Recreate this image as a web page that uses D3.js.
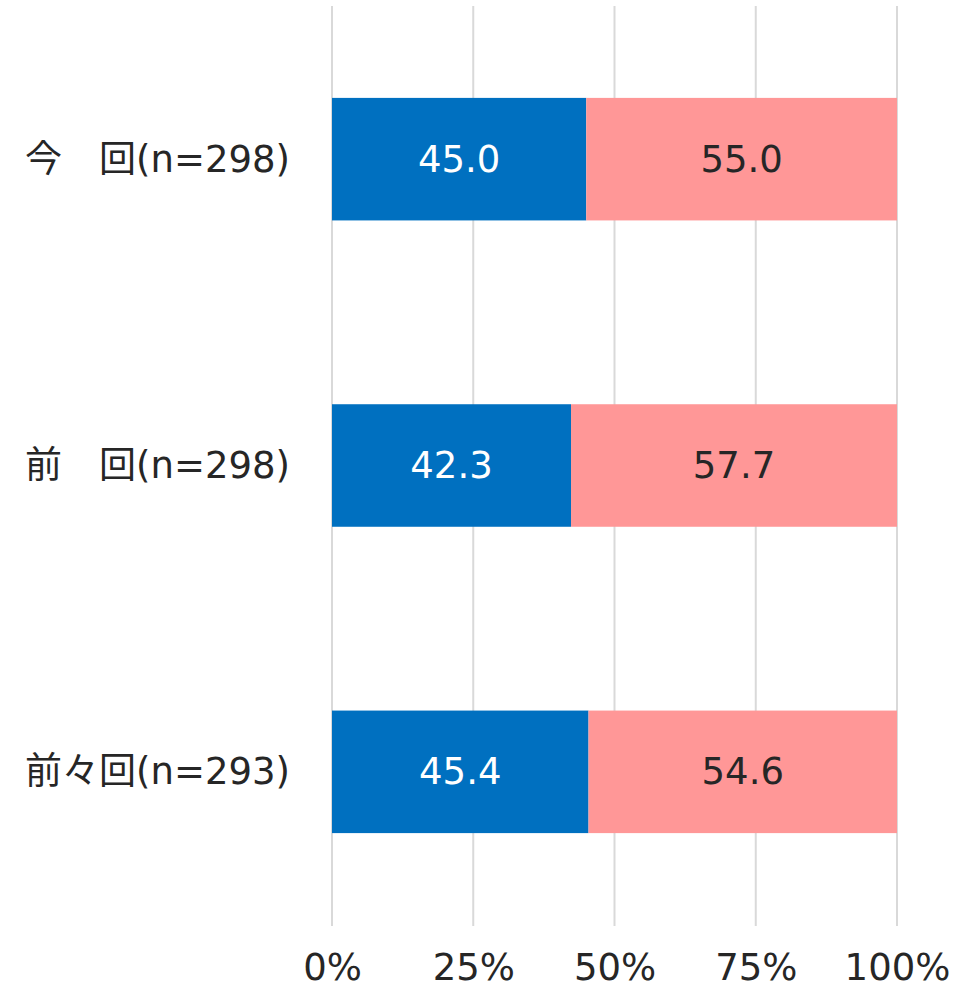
<!DOCTYPE html>
<html>
<head>
<meta charset="utf-8">
<script src="https://cdn.jsdelivr.net/npm/d3@7"></script>
<style>
  html, body { margin: 0; padding: 0; background: #fff; }
  svg { display: block; }
  text { font-family: "DejaVu Sans", "Noto Sans CJK JP", sans-serif; }
</style>
</head>
<body>
<svg id="chart" width="973" height="998"></svg>
<script>
const categories = ["今\u3000回(n=298)", "前\u3000回(n=298)", "前々回(n=293)"];
const seriesA = [45.0, 42.3, 45.4];
const seriesB = [55.0, 57.7, 54.6];
const tickValues = [0, 25, 50, 75, 100];
const tickLabels = ["0%", "25%", "50%", "75%", "100%"];
const colors = ["#0070C0", "#FF9797"];
const labelColors = ["#ffffff", "#262626"];

const svg = d3.select("#chart");
const x = d3.scaleLinear().domain([0, 100]).range([332, 897]);
const y = d3.scaleBand().domain(categories).range([6, 925]).paddingInner(0.6).paddingOuter(0.3);

// gridlines
svg.append("g").selectAll("line").data(tickValues).join("line")
  .attr("x1", d => x(d)).attr("x2", d => x(d))
  .attr("y1", 6).attr("y2", 926)
  .attr("stroke", "#d9d9d9").attr("stroke-width", 2);

const rows = categories.map((c, i) => ({ cat: c, vals: [seriesA[i], seriesB[i]] }));

rows.forEach(r => {
  let start = 0;
  r.vals.forEach((v, k) => {
    const x0 = x(start), x1 = x(start + v);
    svg.append("rect")
      .attr("x", x0).attr("y", y(r.cat))
      .attr("width", x1 - x0).attr("height", y.bandwidth())
      .attr("fill", colors[k]);
    svg.append("text")
      .attr("x", (x0 + x1) / 2).attr("y", y(r.cat) + y.bandwidth() / 2)
      .attr("text-anchor", "middle").attr("dominant-baseline", "central")
      .attr("font-size", 37).attr("fill", labelColors[k])
      .text(v.toFixed(1));
    start += v;
  });
});

// category labels
svg.append("g").selectAll("text").data(categories).join("text")
  .attr("x", 290).attr("y", d => y(d) + y.bandwidth() / 2)
  .attr("text-anchor", "end").attr("dominant-baseline", "central")
  .attr("font-size", 37).attr("fill", "#262626")
  .text(d => d);

// x axis tick labels
const xAxis = d3.axisBottom(x).tickValues(tickValues).tickSize(0)
  .tickFormat((d, i) => tickLabels[i]);
const ax = svg.append("g").attr("transform", "translate(0,951)").call(xAxis);
ax.select(".domain").remove();
ax.selectAll("text").attr("font-size", 37).attr("fill", "#262626")
  .attr("font-family", "DejaVu Sans, sans-serif");
</script>
</body>
</html>
